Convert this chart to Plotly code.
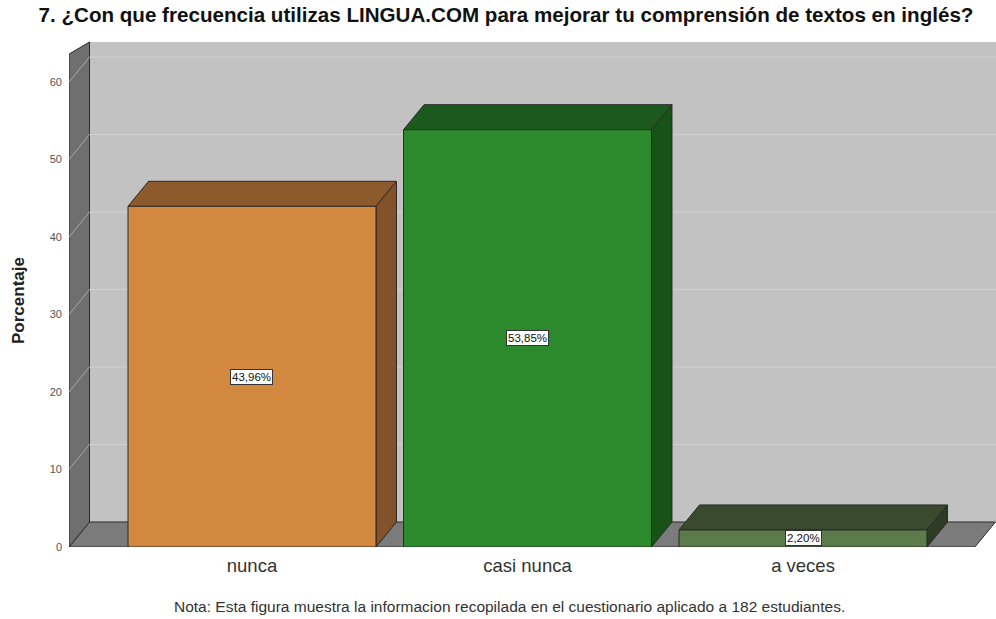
import plotly.graph_objects as go

categories = ["nunca", "casi nunca", "a veces"]
values = [43.96, 53.85, 2.20]
labels = ["43,96%", "53,85%", "2,20%"]
front_colors = ["#d3883f", "#2c8a2c", "#5b7b4b"]
top_colors = ["#8c5a2b", "#1c591c", "#3a4a2f"]
side_colors = ["#84522a", "#175217", "#2e3c25"]
y_ticks = [0, 10, 20, 30, 40, 50, 60]

title = "7. ¿Con que frecuencia utilizas LINGUA.COM para mejorar tu comprensión de textos en inglés?"
note = "Nota: Esta figura muestra la informacion recopilada en el cuestionario aplicado a 182 estudiantes."

W, H = 996, 619
ML, MR, MT, MB = 69, 0, 38, 72
bar_w = 0.9
dx = 0.0744     # depth offset, x units
dy = 3.226      # depth offset, y units
x_lo, x_hi = -0.6642, 2.7005
y_hi = 65.68
x_floor_r = 2.624
wall_top_front, wall_top_back = 63.6, 65.16

font = "Liberation Sans, Arial"

fig = go.Figure()
fig.add_trace(go.Bar(
    x=categories, y=values, width=bar_w,
    marker=dict(color=front_colors, line=dict(color="#2a2a2a", width=1)),
    hoverinfo="skip", showlegend=False,
))

shapes = []
def poly(pts, fill, line="#2a2a2a", lw=1, layer="below"):
    d = "M " + " L ".join(f"{x},{y}" for x, y in pts) + " Z"
    shapes.append(dict(type="path", path=d, xref="x", yref="y", fillcolor=fill,
                       line=dict(color=line, width=lw), layer=layer))

# back wall
poly([(x_lo + dx, dy), (x_lo + dx, wall_top_back), (x_hi + 0.2, wall_top_back), (x_hi + 0.2, dy)], "#c2c2c2", line="#c2c2c2", lw=0)
# floor
poly([(x_lo, 0), (x_lo + dx, dy), (x_floor_r + dx, dy), (x_floor_r, 0)], "#7b7b7b")
# left wall
poly([(x_lo, 0), (x_lo, wall_top_front), (x_lo + dx, wall_top_back), (x_lo + dx, dy)], "#6f6f6f")

# grid lines on back wall and left wall
for v in y_ticks[1:]:
    shapes.append(dict(type="line", xref="x", yref="y", x0=x_lo + dx, x1=x_hi + 0.2, y0=v + dy, y1=v + dy,
                       line=dict(color="#d2d2d2", width=1), layer="below"))
    shapes.append(dict(type="line", xref="x", yref="y", x0=x_lo, x1=x_lo + dx, y0=v, y1=v + dy,
                       line=dict(color="#a9a9a9", width=1), layer="below"))

# 3D bar tops and sides
for i, v in enumerate(values):
    xl, xr = i - bar_w / 2, i + bar_w / 2
    poly([(xl, v), (xl + dx, v + dy), (xr + dx, v + dy), (xr, v)], top_colors[i])
    poly([(xr, 0), (xr, v), (xr + dx, v + dy), (xr + dx, dy)], side_colors[i])

annotations = []
for i, v in enumerate(values):
    annotations.append(dict(x=i, y=v / 2, xref="x", yref="y", text=labels[i], showarrow=False,
                            font=dict(family=font, size=11.5, color="#111"),
                            bgcolor="white", bordercolor="#333", borderwidth=1, borderpad=1))

annotations.append(dict(text="Porcentaje", xref="paper", yref="paper", x=(18 - ML) / (W - ML - MR),
                        y=(547 - 301) / (H - MT - MB), textangle=-90, showarrow=False,
                        xanchor="center", yanchor="middle",
                        font=dict(family=font, size=17, color="#222", weight="bold")))
annotations.append(dict(text=note, xref="paper", yref="paper", x=(509 - ML) / (W - ML - MR),
                        y=(547 - 606) / (H - MT - MB), showarrow=False,
                        xanchor="center", yanchor="middle",
                        font=dict(family=font, size=15.5, color="#333")))

fig.update_layout(
    width=W, height=H,
    margin=dict(l=ML, r=MR, t=MT, b=MB),
    paper_bgcolor="white", plot_bgcolor="white",
    title=dict(text=title, xref="container", x=506 / W, y=1 - 15 / H, xanchor="center", yanchor="middle",
               font=dict(family=font, size=20.6, color="#111", weight="bold")),
    shapes=shapes, annotations=annotations,
    xaxis=dict(type="category", range=[x_lo, x_hi], showgrid=False, zeroline=False, showline=False,
               ticks="", tickfont=dict(family=font, size=18.5, color="#333"), ticklabelstandoff=5,
               fixedrange=True),
    yaxis=dict(range=[0, y_hi], tickvals=y_ticks, showgrid=False, zeroline=False, showline=False,
               ticks="", tickfont=dict(family=font, size=11, color="#555"),
               ticklabelstandoff=6, fixedrange=True),
    bargap=0.1,
)

fig.write_html("out.html", config={"displayModeBar": False},
               post_script="document.body.style.margin='0';document.body.style.overflow='hidden';")
